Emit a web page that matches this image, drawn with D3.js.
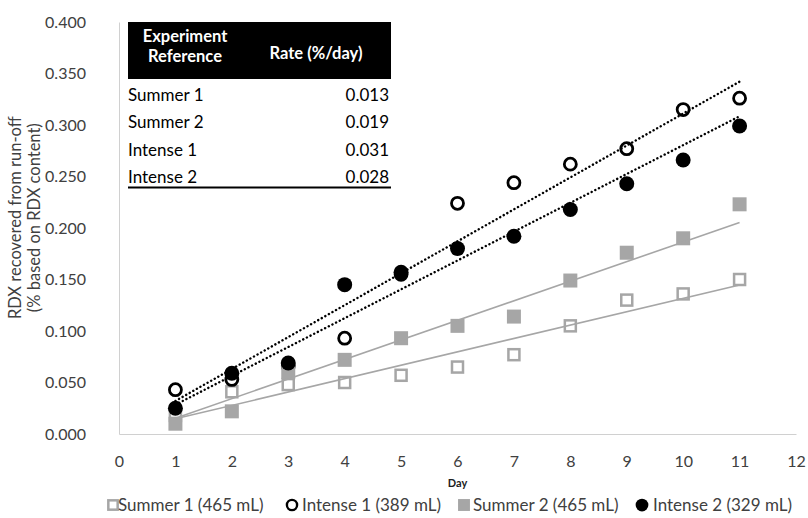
<!DOCTYPE html>
<html>
<head>
<meta charset="utf-8">
<script src="https://cdn.jsdelivr.net/npm/d3@7"></script>
<style>
  html, body { margin: 0; padding: 0; background: #fff; }
  svg { display: block; font-family: Lato, "Open Sans", sans-serif; }
</style>
</head>
<body>
<svg id="chart" width="808" height="518"></svg>
<script>
// Days of sampling
const days = [1, 2, 3, 4, 5, 6, 7, 8, 9, 10, 11];

// RDX recovered from run-off (% based on RDX content)
const summer1 = [0.018, 0.041, 0.048, 0.050, 0.057, 0.065, 0.077, 0.105, 0.130, 0.136, 0.150];
const intense1 = [0.043, 0.053, 0.066, 0.093, 0.155, 0.224, 0.244, 0.262, 0.277, 0.315, 0.326];
const summer2 = [0.010, 0.022, 0.060, 0.072, 0.093, 0.105, 0.114, 0.149, 0.176, 0.190, 0.223];
const intense2 = [0.025, 0.059, 0.069, 0.145, 0.157, 0.180, 0.192, 0.218, 0.243, 0.266, 0.299];

// Legend names
const seriesNames = ["Summer 1 (465 mL)", "Intense 1 (389 mL)", "Summer 2 (465 mL)", "Intense 2 (329 mL)"];

// Rate table
const tableRefs = ["Summer 1", "Summer 2", "Intense 1", "Intense 2"];
const tableRates = [0.013, 0.019, 0.031, 0.028];

// Axis ticks
const xTicks = [0, 1, 2, 3, 4, 5, 6, 7, 8, 9, 10, 11, 12];
const yTicks = [0, 0.05, 0.1, 0.15, 0.2, 0.25, 0.3, 0.35, 0.4];

const svg = d3.select("#chart");
const x = d3.scaleLinear().domain([0, 12]).range([119, 796]);
const y = d3.scaleLinear().domain([0, 0.4]).range([434, 22]);

const textColor = "#404040";
const gray = "#a6a6a6";

// Axes
const xAxis = svg.append("g").attr("transform", `translate(0,${y(0)})`)
  .call(d3.axisBottom(x).tickValues(xTicks).tickSize(0).tickPadding(22).tickFormat(d3.format("d")));
const yAxis = svg.append("g").attr("transform", `translate(${x(0)},0)`)
  .call(d3.axisLeft(y).tickValues(yTicks).tickSize(0).tickPadding(33).tickFormat(d3.format(".3f")));
[xAxis, yAxis].forEach(g => {
  g.select(".domain").attr("stroke", "#d0d0d0").attr("stroke-width", 1);
  g.selectAll("text").attr("fill", textColor).style("font-size", "16px")
    .style("font-family", "Lato, 'Open Sans', sans-serif");
});

// Axis titles
svg.append("text").attr("x", x(6)).attr("y", 487).attr("text-anchor", "middle")
  .attr("fill", "#202020").style("font-size", "11px").style("font-weight", "bold").text("Day");
const yTitle = svg.append("text").attr("transform", `translate(23,${y(0.21)}) rotate(-90)`)
  .attr("text-anchor", "middle").attr("fill", textColor).style("font-size", "16.5px");
yTitle.append("tspan").attr("x", 0).attr("dy", "-0.15em").text("RDX recovered from run-off");
yTitle.append("tspan").attr("x", 0).attr("dy", "1.2em").text("(% based on RDX content)");

// Markers
const series = [
  { name: seriesNames[0], values: summer1, shape: "openSquare" },
  { name: seriesNames[1], values: intense1, shape: "openCircle" },
  { name: seriesNames[2], values: summer2, shape: "square" },
  { name: seriesNames[3], values: intense2, shape: "circle" }
];

function drawMarker(g, shape, cx, cy, k = 1) {
  if (shape === "openSquare") {
    g.append("rect").attr("x", cx - 5.5 * k).attr("y", cy - 5.5 * k).attr("width", 11 * k).attr("height", 11 * k)
      .attr("fill", "#fff").attr("stroke", gray).attr("stroke-width", 2.5);
  } else if (shape === "square") {
    g.append("rect").attr("x", cx - 7 * k).attr("y", cy - 7 * k).attr("width", 14 * k).attr("height", 14 * k)
      .attr("fill", gray);
  } else if (shape === "openCircle") {
    g.append("circle").attr("cx", cx).attr("cy", cy).attr("r", 6 * k)
      .attr("fill", "#fff").attr("stroke", "#000").attr("stroke-width", 2.8 * k);
  } else {
    g.append("circle").attr("cx", cx).attr("cy", cy).attr("r", 7.5 * k).attr("fill", "#000");
  }
}

const markers = svg.append("g");
series.forEach(s => {
  s.values.forEach((v, i) => drawMarker(markers, s.shape, x(days[i]), y(v)));
});

// Linear trend lines using the tabulated rates as slopes, passing through each series' mean
const trends = [
  { values: summer1, rate: tableRates[0], color: gray, dash: null, width: 1.6 },
  { values: summer2, rate: tableRates[1], color: gray, dash: null, width: 1.6 },
  { values: intense1, rate: tableRates[2], color: "#000", dash: "0.1,4", width: 2.4 },
  { values: intense2, rate: tableRates[3], color: "#000", dash: "0.1,4", width: 2.4 }
];
const line = d3.line().x(d => x(d[0])).y(d => y(d[1]));
trends.forEach(t => {
  const mx = d3.mean(days), my = d3.mean(t.values);
  const ends = [days[0], days[days.length - 1]].map(d => [d, my + t.rate * (d - mx)]);
  svg.append("path").attr("d", line(ends)).attr("fill", "none")
    .attr("stroke", t.color).attr("stroke-width", t.width)
    .attr("stroke-linecap", t.dash ? "round" : "butt")
    .attr("stroke-dasharray", t.dash);
});

// Rate table
const tbl = svg.append("g").style("font-size", "17px");
tbl.append("rect").attr("x", 128).attr("y", 22).attr("width", 263).attr("height", 57).attr("fill", "#000");
const h1 = tbl.append("text").attr("x", 185).attr("y", 47).attr("text-anchor", "middle")
  .attr("fill", "#fff").style("font-weight", "bold").style("font-size", "16.5px");
h1.append("tspan").attr("x", 185).attr("dy", "-0.3em").text("Experiment");
h1.append("tspan").attr("x", 185).attr("dy", "1.2em").text("Reference");
tbl.append("text").attr("x", 316).attr("y", 59).attr("text-anchor", "middle")
  .attr("fill", "#fff").style("font-weight", "bold").style("font-size", "16.5px").text("Rate (%/day)");
tableRefs.forEach((r, i) => {
  const ty = 101 + i * 27.3;
  tbl.append("text").attr("x", 128).attr("y", ty).attr("fill", "#000").text(r);
  tbl.append("text").attr("x", 389).attr("y", ty).attr("text-anchor", "end").attr("fill", "#000")
    .text(d3.format(".3f")(tableRates[i]));
});
tbl.append("line").attr("x1", 128).attr("x2", 391).attr("y1", 187.5).attr("y2", 187.5)
  .attr("stroke", "#000").attr("stroke-width", 2);

// Legend
const legendMarkX = [113, 292, 464, 642];
const legendTextX = [118, 302, 473, 653];
const legend = svg.append("g");
series.forEach((s, i) => {
  drawMarker(legend, s.shape, legendMarkX[i], 505, 0.85);
  legend.append("text").attr("x", legendTextX[i]).attr("y", 511).attr("fill", textColor)
    .style("font-size", "17px").text(s.name);
});
</script>
</body>
</html>
